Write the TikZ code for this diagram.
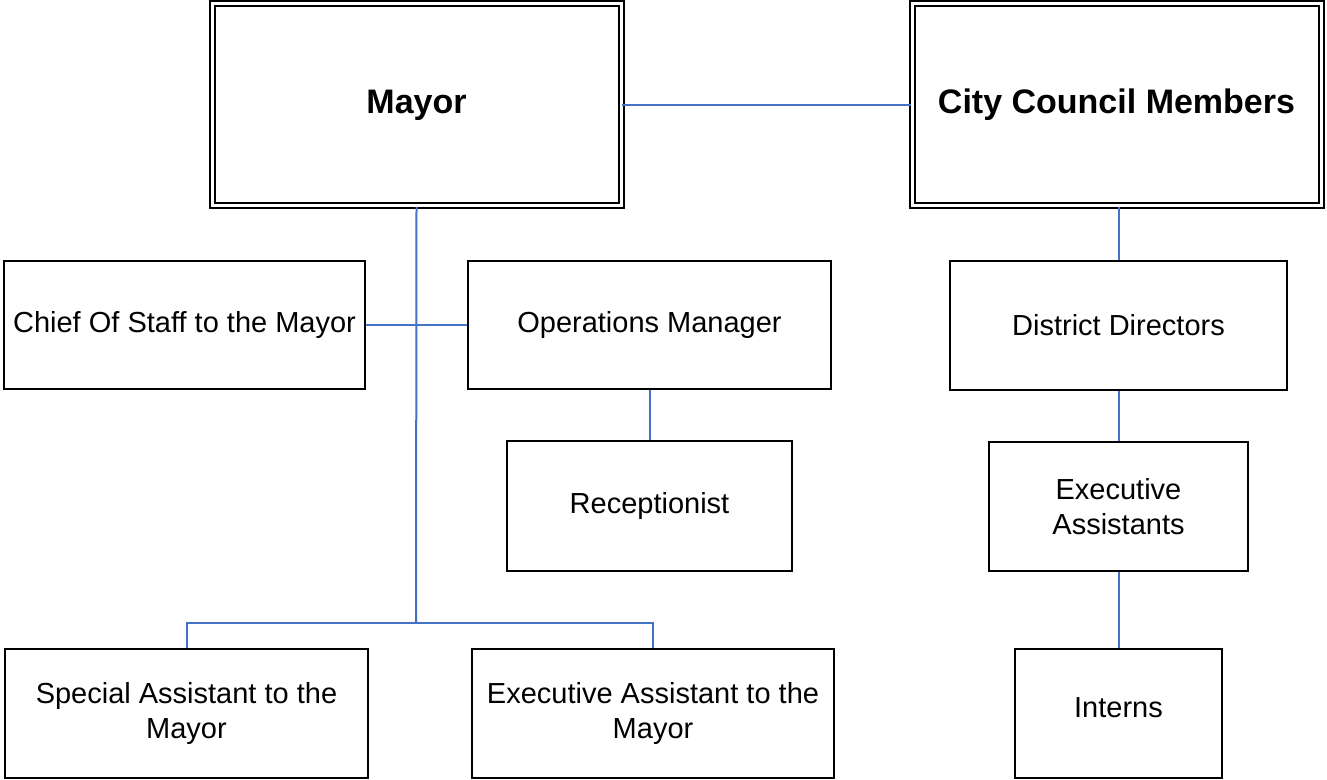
\documentclass[tikz,border=0pt]{standalone}
\usepackage{fontspec}
\setmainfont{Liberation Sans}
\usepackage{tikz}
\usetikzlibrary{positioning}
\definecolor{linkblue}{HTML}{4472C4}

\begin{document}
\begin{tikzpicture}[x=0.5pt, y=-0.5pt, box/.style={draw,line width=1pt,inner sep=0pt,align=center,font=\fontsize{14.5}{17.5}\selectfont},topbox/.style={box,double,double distance=1.5pt,line width=1pt,font=\bfseries\fontsize{17}{20}\selectfont},link/.style={draw=linkblue,line width=1pt}]
              \useasboundingbox (0,0) rectangle (1327,780);

              \node[topbox,minimum width=204.5pt,minimum height=101pt] (mayor) at (416.5,105) {Mayor};
              \node[topbox,minimum width=204.5pt,minimum height=101pt] (council) at (1116.5,105) {City Council Members};

              \node[box,minimum width=180.5pt,minimum height=64pt] (chief) at (184.5,325) {Chief Of Staff to the Mayor};
              \node[box,minimum width=181.5pt,minimum height=64pt] (ops) at (649.5,325) {Operations Manager};
              \node[box,minimum width=142.5pt,minimum height=65pt] (recep) at (649.5,506) {Receptionist};
              \node[box,minimum width=181.5pt,minimum height=64.5pt] (special) at (186.5,713.5) {Special Assistant to the\\Mayor};
              \node[box,minimum width=181pt,minimum height=64.5pt] (execm) at (653,713.5) {Executive Assistant to the\\Mayor};

              \node[box,minimum width=168.5pt,minimum height=64.5pt] (district) at (1118.5,325.5) {District Directors};
              \node[box,minimum width=129.5pt,minimum height=64.5pt] (execa) at (1118.5,506.5) {Executive\\Assistants};
              \node[box,minimum width=103.5pt,minimum height=64.5pt,text depth=6pt] (interns) at (1118.5,713.5) {Interns};

              \coordinate (jct) at (416,623);
              \draw[link] (mayor.east) -- (council.west);
              \draw[link] (mayor.south) -- (jct);
              \draw[link] (chief.east) -- (ops.west);
              \draw[link] (ops.south) -- (recep.north);
              \draw[link] (special.north) |- (jct) -| (execm.north);
              \draw[link] (district.north |- council.south) -- (district.north);
              \draw[link] (district.south) -- (execa.north);
              \draw[link] (execa.south) -- (interns.north);
            \end{tikzpicture}
\end{document}
